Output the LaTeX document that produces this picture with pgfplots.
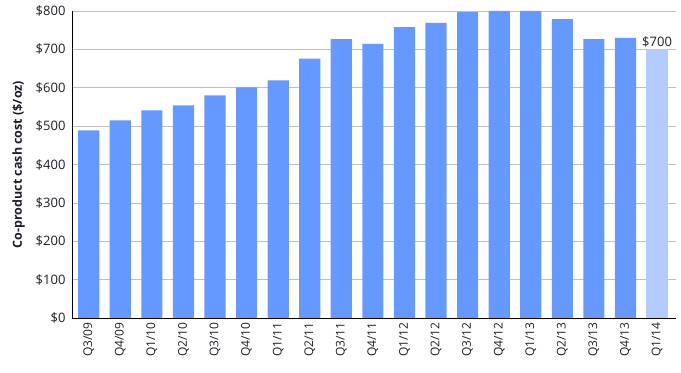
\documentclass[border=0pt]{standalone}
\usepackage{pgfplots}
\pgfplotsset{compat=1.18}
\usetikzlibrary{calc}
\usepackage{fontspec}
\setmainfont{Open Sans}
\definecolor{barblue}{RGB}{102,153,255}
\definecolor{barlight}{RGB}{179,204,255}
\definecolor{txt}{RGB}{30,30,40}
\begin{document}
\begin{tikzpicture}
\begin{axis}[
  scale only axis,
  width=604pt, height=307pt,
  ymin=0, ymax=800,
  xmin=-0.53, xmax=18.6,
  ytick={0,100,...,800},
  yticklabel={\$\pgfmathprintnumber{\tick}},
  /pgf/number format/assume math mode=true,
  xtick={0,...,18},
  xticklabels={Q3/09,Q4/09,Q1/10,Q2/10,Q3/10,Q4/10,Q1/11,Q2/11,Q3/11,Q4/11,Q1/12,Q2/12,Q3/12,Q4/12,Q1/13,Q2/13,Q3/13,Q4/13,Q1/14},
  x tick label style={rotate=90, anchor=east, font=\fontsize{12}{14}\selectfont, text=txt, xshift=-1pt},
  y tick label style={font=\fontsize{13}{15}\selectfont, text=txt, xshift=-3pt},
  major tick length=0pt,
  axis x line*=bottom, axis y line*=left,
  axis line style={black, line width=0.8pt},
  ymajorgrids, grid style={gray!50, line width=0.6pt},
  ylabel={\bfseries Co-product cash cost (\$/oz)},
  ylabel style={font=\fontsize{12.5}{14}\selectfont, text=txt, yshift=4pt},
  ybar, bar width=0.67, bar shift=0pt,
  clip=false,
]
\addplot[fill=barblue, draw=none] coordinates {
(0,489) (1,515) (2,541) (3,554) (4,580) (5,601) (6,619) (7,676) (8,727)
(9,714) (10,758) (11,769) (12,797) (13,800) (14,800) (15,779) (16,727) (17,730)};
\addplot[fill=barlight, draw=none,
  nodes near coords={\$700},
  every node near coord/.append style={font=\fontsize{13}{15}\selectfont, text=txt, yshift=-1pt}]
  coordinates {(18,700)};
\end{axis}
\useasboundingbox ($(current axis.south west)+(-72pt,-55pt)$) rectangle ($(current axis.north east)+(5pt,11pt)$);
\end{tikzpicture}
\end{document}
